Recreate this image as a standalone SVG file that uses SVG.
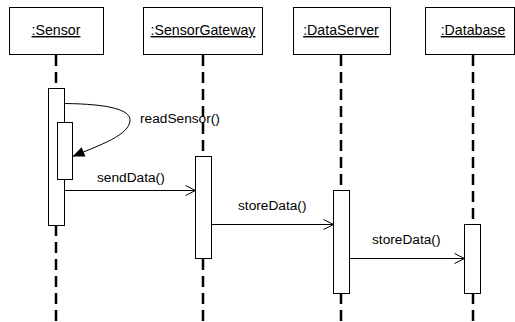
<svg xmlns="http://www.w3.org/2000/svg" width="515" height="322" viewBox="0 0 515 322">
<defs>
<marker id="open" markerWidth="12" markerHeight="12" refX="11" refY="6" orient="auto" markerUnits="userSpaceOnUse"><path d="M1,1 L11,6 L1,11" fill="none" stroke="#000" stroke-width="1"/></marker>
<marker id="filled" markerWidth="14" markerHeight="12" refX="13" refY="6" orient="auto" markerUnits="userSpaceOnUse"><path d="M1,1 L13,6 L1,11 Z" fill="#000"/></marker>
</defs>
<style>
.box{fill:#fff;stroke:#000;stroke-width:1}
.life{stroke:#000;stroke-width:2.5;stroke-dasharray:11,6}
.lbl{font-family:"Liberation Sans",Arial,sans-serif;font-size:14.2px;text-decoration:underline;text-anchor:middle}
.msg{font-family:"Liberation Sans",Arial,sans-serif;font-size:13.7px}
.act{fill:#fff;stroke:#000;stroke-width:1}
.arr{fill:none;stroke:#000;stroke-width:1}
</style>
<rect width="515" height="322" fill="#fff"/>
<g id="lifelines">
<line class="life" x1="56" y1="55" x2="56" y2="322"/>
<line class="life" x1="203" y1="55" x2="203" y2="322"/>
<line class="life" x1="341" y1="55" x2="341" y2="322"/>
<line class="life" x1="473" y1="55" x2="473" y2="322"/>
</g>
<g id="sensor">
<rect class="box" x="9.5" y="7.5" width="94" height="47"/>
<text class="lbl" x="56" y="35">:Sensor</text>
<rect class="act" x="48.5" y="88.5" width="16" height="137"/>
<rect class="act" x="57.5" y="122.5" width="15" height="57"/>
</g>
<g id="sensorgateway">
<rect class="box" x="143.5" y="7.5" width="119" height="47"/>
<text class="lbl" x="203" y="35">:SensorGateway</text>
<rect class="act" x="195.5" y="156.5" width="16" height="102"/>
</g>
<g id="dataserver">
<rect class="box" x="293.5" y="7.5" width="97" height="47"/>
<text class="lbl" x="341" y="35">:DataServer</text>
<rect class="act" x="333.5" y="190.5" width="16" height="103"/>
</g>
<g id="database">
<rect class="box" x="425.5" y="7.5" width="89" height="47"/>
<text class="lbl" x="473" y="35">:Database</text>
<rect class="act" x="464.5" y="224.5" width="16" height="69"/>
</g>
<g id="connectors">
<path class="arr" d="M64.5,103.5 C110,104 130,110 130,120 C130,135 100,145 72.5,156.5" marker-end="url(#filled)"/>
<line class="arr" x1="64.5" y1="190.5" x2="195.5" y2="190.5" marker-end="url(#open)"/>
<line class="arr" x1="211.5" y1="224.5" x2="333.5" y2="224.5" marker-end="url(#open)"/>
<line class="arr" x1="349.5" y1="258.5" x2="464.5" y2="258.5" marker-end="url(#open)"/>
<text class="msg" x="140" y="123">readSensor()</text>
<text class="msg" x="97" y="182">sendData()</text>
<text class="msg" x="238" y="210">storeData()</text>
<text class="msg" x="372" y="244">storeData()</text>
</g>
</svg>
